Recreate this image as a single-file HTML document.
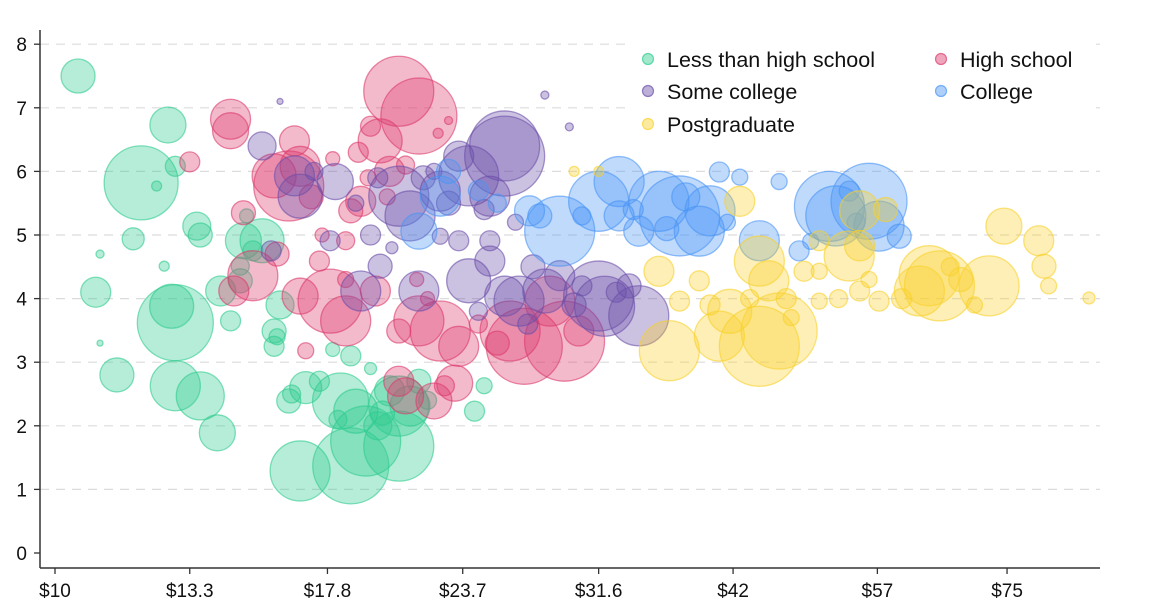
<!DOCTYPE html>
<html><head><meta charset="utf-8"><style>
html,body{margin:0;padding:0;background:#fff;}
svg{display:block;font-family:"Liberation Sans",Arial,sans-serif;}
</style></head><body>
<svg id="chart" width="1175" height="609" viewBox="0 0 1175 609" xmlns="http://www.w3.org/2000/svg"></svg>
<script>
const yTicks=[0,1,2,3,4,5,6,7,8];
const xTicks=[10,13.3,17.8,23.7,31.6,42,57,75];
const xTickLabels=["$10","$13.3","$17.8","$23.7","$31.6","$42","$57","$75"];
const seriesNames=["Less than high school","High school","Some college","College","Postgraduate"];
const seriesColors=["#2ecc8f","#dc3a6c","#6a4ea8","#4a94f5","#f9d12a"];
// [income, value, size]
const lessHS=[[10.5,7.5,17],[12.7,6.73,18],[12.0,5.82,37],[12.9,6.08,10],[12.4,5.77,5],[13.5,5.14,14],[11.8,4.94,11],[10.9,4.1,15],[12.9,3.62,38],[12.8,3.88,22],[11.4,2.8,17],[12.9,2.63,25],[13.6,2.47,24],[14.1,1.89,18],[14.9,4.91,18],[15.5,4.91,22],[14.8,4.28,12],[15.9,3.49,12],[15.9,3.25,10],[16.4,2.39,12],[16.8,1.29,30],[18.7,1.37,38],[19.3,1.76,35],[20.7,1.68,35],[20.7,2.31,30],[21.2,2.31,20],[18.3,2.39,28],[18.7,3.1,10],[17.5,2.7,10],[18.9,2.23,22],[20.3,2.55,15],[21.6,2.7,12],[14.5,3.65,10],[14.2,4.12,15],[14.8,4.51,9],[24.3,2.23,10],[24.8,2.63,8],[12.6,4.51,5],[13.6,5.0,12],[15.2,4.75,10],[16.1,3.9,14],[17.0,2.6,16],[19.8,2.0,14],[11.0,3.3,3],[11.0,4.7,4],[16.0,3.4,8],[18.0,3.2,7],[19.5,2.9,6],[15.0,5.3,7],[20.0,2.2,12],[22.0,2.4,9],[16.5,2.5,9],[18.2,2.1,9]];
const highSchool=[[14.5,6.64,18],[14.5,6.82,20],[16.6,6.48,15],[15.9,5.93,22],[16.4,5.77,35],[16.8,6.08,20],[14.9,5.35,12],[15.2,4.36,25],[14.6,4.12,15],[17.9,3.96,32],[18.5,3.65,25],[16.8,4.04,18],[17.5,4.59,10],[18.5,4.91,9],[17.0,3.18,8],[20.7,7.26,35],[21.6,6.87,38],[19.9,6.48,22],[19.5,6.71,10],[19.1,5.53,15],[21.6,3.65,25],[22.6,3.49,30],[23.5,3.25,20],[20.7,3.49,12],[19.7,4.12,15],[20.7,2.7,15],[22.8,2.63,10],[23.3,2.67,18],[21.0,2.47,18],[22.3,2.39,18],[26.2,3.49,30],[27.0,3.25,38],[29.4,3.33,40],[28.5,3.96,25],[30.3,3.49,15],[18.7,5.38,12],[20.3,6.0,15],[13.3,6.15,10],[17.2,5.6,12],[19.0,6.3,10],[16.0,4.7,12],[18.0,6.2,7],[19.4,5.9,8],[21.0,6.1,9],[20.2,5.6,8],[22.0,4.0,7],[24.5,3.6,9],[25.5,3.3,12],[18.5,4.3,8],[21.5,4.3,7],[17.6,5.0,7],[22.5,6.6,5],[23.0,6.8,4]];
const someCollege=[[15.5,6.4,14],[16.6,5.93,20],[16.8,5.61,22],[18.1,5.84,18],[20.7,5.61,30],[21.2,5.3,25],[22.6,5.69,20],[24.0,5.93,30],[25.9,6.24,40],[25.9,6.4,35],[25.1,5.61,20],[24.0,4.28,22],[25.1,4.59,15],[25.9,4.04,20],[26.7,3.96,25],[31.6,4.04,35],[32.0,3.88,30],[34.4,3.73,30],[33.7,4.2,12],[29.1,4.36,15],[28.2,4.12,22],[23.5,4.91,10],[25.1,4.91,10],[21.6,4.12,20],[17.9,4.91,10],[19.1,4.12,20],[15.8,4.75,10],[19.9,4.51,12],[23.5,6.24,15],[22.6,4.98,8],[28.2,7.2,4],[29.7,6.7,4],[16.1,7.1,3],[19.5,5.0,10],[27.5,4.5,12],[30.5,4.2,10],[19.8,5.9,10],[21.8,5.9,12],[23.0,5.5,12],[24.8,5.4,10],[22.3,6.0,8],[17.3,6.0,9],[18.9,5.5,8],[26.5,5.2,8],[27.2,3.6,10],[30.0,3.9,12],[32.8,4.1,10],[24.5,3.8,9],[20.4,4.8,6]];
const college=[[21.6,5.06,18],[22.6,5.61,20],[23.0,6.0,12],[29.1,5.06,35],[31.6,5.53,30],[33.0,5.84,25],[37.5,5.3,40],[35.9,5.53,30],[39.1,5.06,25],[40.0,5.38,25],[44.4,4.91,20],[51.5,5.45,35],[52.2,5.3,30],[56.0,5.53,38],[57.2,5.14,25],[59.7,4.98,12],[40.8,5.99,10],[42.6,5.91,8],[46.3,5.84,8],[48.3,4.75,10],[27.3,5.38,15],[53.7,5.69,10],[33.0,5.3,15],[34.4,5.06,15],[27.9,5.3,12],[36.5,5.1,12],[38.0,5.6,14],[34.0,5.4,10],[30.5,5.3,9],[41.5,5.2,8],[24.5,5.7,10],[25.5,5.5,9],[49.5,4.9,8],[54.5,5.2,9]];
const postgrad=[[36.7,3.18,30],[40.8,3.41,25],[41.7,3.8,22],[44.4,3.25,40],[46.3,3.49,38],[45.3,4.28,20],[44.4,4.59,25],[42.6,5.53,15],[48.8,4.43,10],[50.4,3.96,8],[54.9,4.12,10],[62.3,4.12,25],[63.6,4.36,30],[65.0,4.2,35],[72.2,4.2,30],[74.5,5.14,18],[80.2,4.91,15],[81.1,4.51,12],[81.9,4.2,8],[89.2,4.01,6],[53.7,4.67,25],[54.9,5.38,20],[54.9,4.83,15],[39.1,4.28,10],[35.9,4.43,15],[37.5,3.96,10],[57.2,3.96,10],[50.4,4.91,10],[50.4,4.43,8],[30.0,6.0,5],[31.6,6.0,5],[47.0,4.0,10],[58.0,5.4,12],[68.0,4.3,12],[40.0,3.9,10],[43.5,4.0,9],[47.5,3.7,8],[52.5,4.0,9],[56.0,4.3,8],[60.0,4.0,10],[66.5,4.5,9],[70.0,3.9,8]];
const allSeries=[lessHS,highSchool,someCollege,college,postgrad];

const svg=document.getElementById('chart');
const NS="http://www.w3.org/2000/svg";
const L=40,R=1100,T=30,B=568;
function xScale(v){return 55+472.5*Math.log(v/10);}
function yScale(v){return 553-63.6*v;}
function rScale(s){return s;}
function mk(tag,attrs){const e=document.createElementNS(NS,tag);for(const k in attrs)e.setAttribute(k,attrs[k]);svg.appendChild(e);return e;}

yTicks.forEach(t=>{
  if(t>0){
    const g=mk('line',{x1:L,x2:R,y1:yScale(t),y2:yScale(t),stroke:'#dcdcdc','stroke-width':1.2,'stroke-dasharray':'9,7'});
    
    
  }
});
allSeries.forEach((ser,si)=>{
  ser.forEach((d,i)=>{
    const c=mk('circle',{cx:xScale(d[0]),cy:yScale(d[1]),r:rScale(d[2]),fill:seriesColors[si],'fill-opacity':0.35,stroke:seriesColors[si],'stroke-opacity':0.6,'stroke-width':1.3});
    
    
  });
});
const ya=mk('line',{x1:L,x2:L,y1:T,y2:B,stroke:'#333','stroke-width':1.5});


const xa=mk('line',{x1:L,x2:R,y1:B,y2:B,stroke:'#333','stroke-width':1.5});


yTicks.forEach(t=>{
  mk('line',{x1:L-6,x2:L,y1:yScale(t),y2:yScale(t),stroke:'#333','stroke-width':1.3});
  const tx=mk('text',{x:L-13,y:yScale(t)+7,'text-anchor':'end','font-size':19,fill:'#111'});
  tx.textContent=t;
  
  
});
xTicks.forEach((t,i)=>{
  mk('line',{x1:xScale(t),x2:xScale(t),y1:B,y2:B+6,stroke:'#333','stroke-width':1.3});
  const tx=mk('text',{x:xScale(t),y:597,'text-anchor':'middle','font-size':19,fill:'#111'});
  tx.textContent=xTickLabels[i];
  
  
});
const lb=mk('rect',{x:632,y:42,width:462,height:100,fill:'#fff'});


const lpos=[[648,59],[941,59],[648,91],[941,91],[648,124]];
seriesNames.forEach((n,i)=>{
  const m=mk('circle',{cx:lpos[i][0],cy:lpos[i][1],r:5.5,fill:seriesColors[i],'fill-opacity':0.45,stroke:seriesColors[i],'stroke-opacity':0.7,'stroke-width':1.2});
  
  
  const t=mk('text',{x:lpos[i][0]+19,y:lpos[i][1]+8,'font-size':21.5,fill:'#111'});
  t.textContent=n;
  
  
});
</script>
</body></html>
